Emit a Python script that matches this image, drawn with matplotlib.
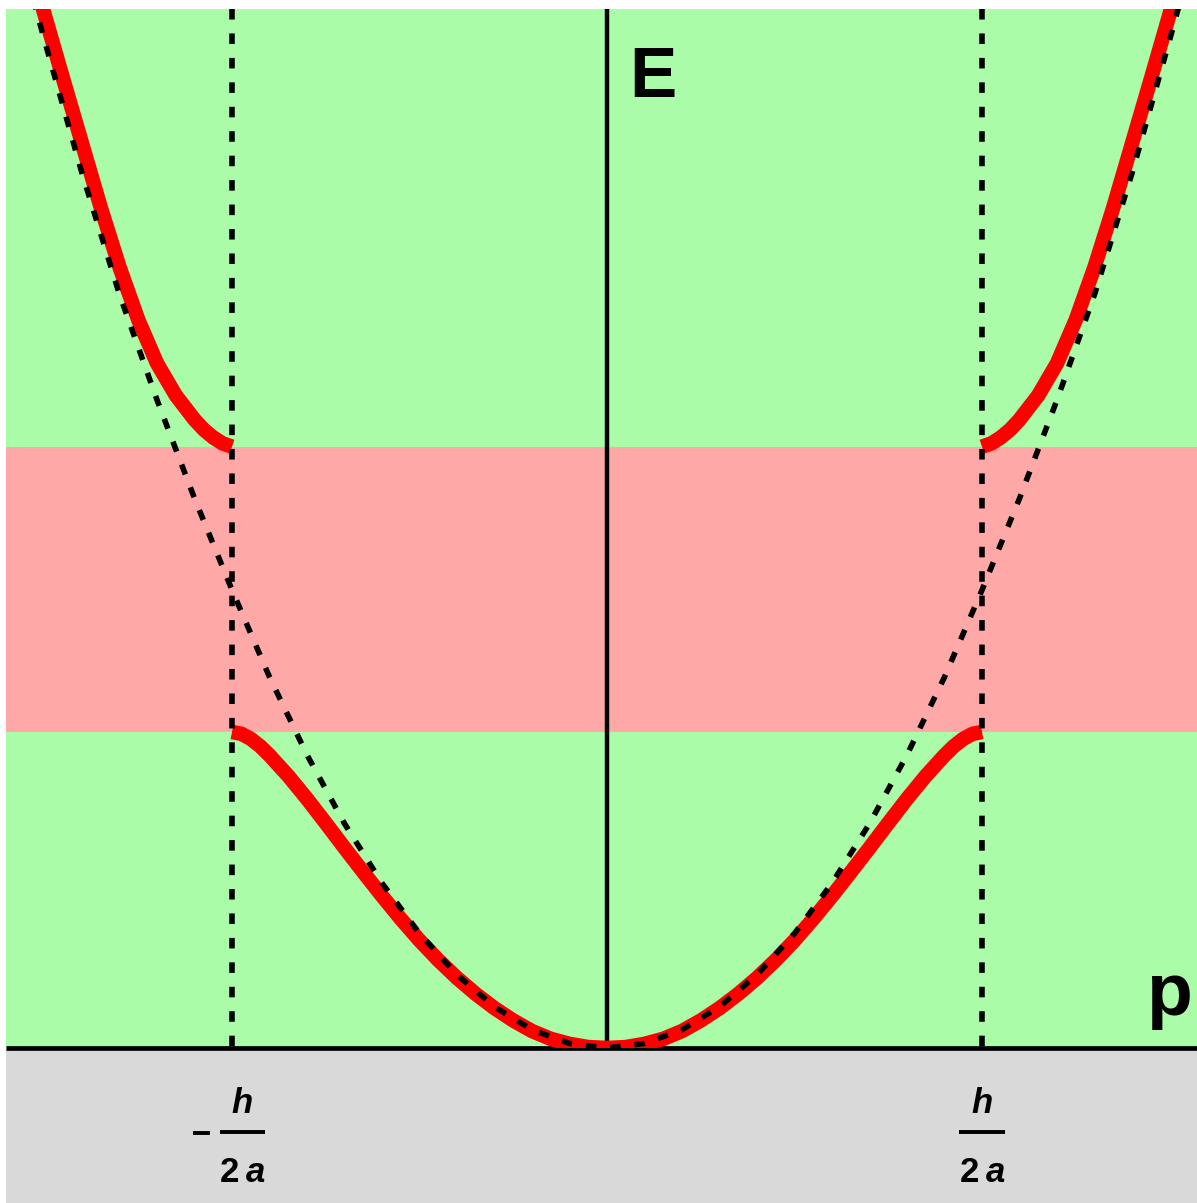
import numpy as np
import matplotlib
matplotlib.use("Agg")
import matplotlib.pyplot as plt
from matplotlib.patches import Rectangle

# Momentum p in units of h/2a, energy E in units of the free-electron energy at the zone edge
P_EDGE = 1.0
GAP_BOTTOM = 0.69
GAP_TOP = 1.312

# free-electron parabola, p >= 0 half (mirrored for p < 0)
FREE_P = [0.0, 0.1, 0.2, 0.3, 0.4, 0.5, 0.6, 0.7, 0.8, 0.9, 1.0,
          1.1, 1.2, 1.3, 1.4, 1.5, 1.6, 1.7]
FREE_E = [0.0, 0.01, 0.04, 0.09, 0.16, 0.25, 0.36, 0.49, 0.64, 0.81, 1.0,
          1.20, 1.415, 1.645, 1.91, 2.20, 2.50, 2.82]

# first band, p >= 0 half
LOWER_P = [0.0, 0.05, 0.1, 0.15, 0.2, 0.25, 0.3, 0.35, 0.4, 0.45, 0.5, 0.55,
           0.6, 0.65, 0.7, 0.75, 0.8, 0.85, 0.9, 0.925, 0.95, 0.975, 1.0]
LOWER_E = [0.0, 0.002, 0.009, 0.02, 0.037, 0.06, 0.087, 0.118, 0.153, 0.192, 0.235, 0.282,
           0.332, 0.384, 0.437, 0.491, 0.544, 0.594, 0.639, 0.659, 0.675, 0.686, 0.69]

# second band, p >= 1 branch
UPPER_P = [1.0, 1.025, 1.05, 1.075, 1.1, 1.15, 1.2, 1.25, 1.3, 1.35, 1.4, 1.45, 1.5, 1.55]
UPPER_E = [1.313, 1.32, 1.333, 1.35, 1.372, 1.425, 1.495, 1.59, 1.705, 1.835, 1.975,
           2.115, 2.257, 2.40]

GREEN = "#AAFCA8"
PINK = "#FEA8A8"
GREY = "#D9D9D9"
RED = "#FF0000"

X_LIM = (-1.6187, 1.5733)
Y_LIM = (-0.3384, 2.2882)
AREA_LEFT = -1.6027
AREA_TOP = 2.2686

DASH = (0, (1.9, 2.5))


def mirrored(p, e):
    p = np.asarray(p, dtype=float)
    e = np.asarray(e, dtype=float)
    return np.concatenate([-p[::-1], p[1:]]), np.concatenate([e[::-1], e[1:]])


fig = plt.figure(figsize=(11.97, 12.03), dpi=100)
ax = fig.add_axes([0, 0, 1, 1])
ax.set_xlim(*X_LIM)
ax.set_ylim(*Y_LIM)
ax.axis("off")

# backgrounds: allowed bands, forbidden gap, region below the p axis
width = X_LIM[1] - AREA_LEFT
area = Rectangle((AREA_LEFT, 0), width, AREA_TOP,
                 facecolor=GREEN, edgecolor="none", zorder=0)
ax.add_patch(area)
ax.add_patch(Rectangle((AREA_LEFT, GAP_BOTTOM), width, GAP_TOP - GAP_BOTTOM,
                       facecolor=PINK, edgecolor="none", zorder=0.5))
ax.add_patch(Rectangle((AREA_LEFT, Y_LIM[0]), width, -Y_LIM[0],
                       facecolor=GREY, edgecolor="none", zorder=0))

# axes
ax.plot([AREA_LEFT, X_LIM[1]], [0, 0], color="black", lw=3.4, zorder=3,
        solid_capstyle="butt")
ax.plot([0, 0], [0, AREA_TOP], color="black", lw=3.2, zorder=3,
        solid_capstyle="butt")

# red bands
lp, le = mirrored(LOWER_P, LOWER_E)
ln, = ax.plot(lp, le, color=RED, lw=10.5, zorder=4, solid_capstyle="butt",
              solid_joinstyle="round")
ln.set_clip_path(area)
up = np.asarray(UPPER_P)
ue = np.asarray(UPPER_E)
for sign in (-1, 1):
    ln, = ax.plot(sign * up, ue, color=RED, lw=10.5, zorder=4,
                  solid_capstyle="butt", solid_joinstyle="round")
    ln.set_clip_path(area)

# free-electron parabola and zone edges
fp, fe = mirrored(FREE_P, FREE_E)
ln, = ax.plot(fp, fe, color="black", lw=4.0, ls=DASH, zorder=5,
              dash_capstyle="butt")
ln.set_clip_path(area)
for sign in (-1, 1):
    ax.plot([sign * P_EDGE, sign * P_EDGE], [AREA_TOP, 0], color="black", lw=4.0,
            ls=DASH, zorder=5, dash_capstyle="butt")

# axis names
ax.text(0.058, 2.076, "E", fontsize=51, fontweight="bold",
        family="Liberation Sans", ha="left", va="baseline", zorder=6)
ax.text(1.437, 0.072, "p", fontsize=54, fontweight="bold",
        family="Liberation Sans", ha="left", va="baseline", zorder=6)

# zone edge labels -h/2a and h/2a
for sign, center in ((-1, -0.972), (1, 1.0)):
    ax.text(center, -0.142, "h", fontsize=25, fontweight="bold", style="italic",
            family="Liberation Sans", ha="center", va="baseline", zorder=6)
    ax.plot([center - 0.061, center + 0.061], [-0.183, -0.183], color="black",
            lw=2.8, solid_capstyle="butt", zorder=6)
    ax.text(center - 0.008, -0.293, "2", fontsize=25, fontweight="bold",
            family="Liberation Sans", ha="right", va="baseline", zorder=6)
    ax.text(center + 0.010, -0.293, "a", fontsize=25, fontweight="bold", style="italic",
            family="Liberation Sans", ha="left", va="baseline", zorder=6)
    if sign < 0:
        ax.plot([center - 0.131, center - 0.086], [-0.186, -0.186], color="black",
                lw=2.8, solid_capstyle="butt", zorder=6)

fig.savefig("out.png", dpi=100, facecolor="white")
